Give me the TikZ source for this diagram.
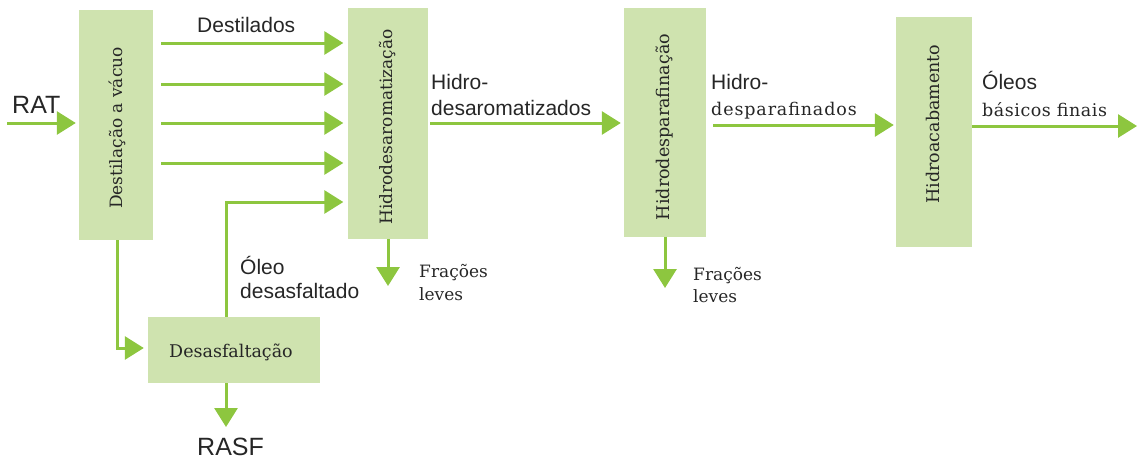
\documentclass[tikz,border=0pt]{standalone}
\usepackage{fontspec}
\setmainfont{DejaVu Serif}
\newfontfamily\lsans{Liberation Sans}
\newfontfamily\lserA{DejaVu Serif}
\newfontfamily\lserB{DejaVu Serif}[LetterSpace=5]
\newfontfamily\lserC{DejaVu Serif}[LetterSpace=3]
\usetikzlibrary{arrows.meta}
\definecolor{boxgreen}{HTML}{CFE3AF}
\definecolor{arrgreen}{HTML}{8DC63F}
\definecolor{txt}{HTML}{262626}
\tikzset{
  procbox/.style={draw=none, fill=boxgreen, inner sep=0pt},
  boxtxt/.style={rotate=90, inner sep=0pt, text=txt, font=\lserA\fontsize{17.5}{20}\selectfont},
  arr/.style={draw=arrgreen, line width=3pt, line join=miter,
    -{Triangle[length=19pt,width=23pt]}},
  sanslbl/.style={inner sep=0pt, anchor=base west, text=txt, font=\lsans\fontsize{21}{25}\selectfont},
  biglbl/.style={inner sep=0pt, anchor=base west, text=txt, font=\lsans\fontsize{25}{30}\selectfont},
  serlbl/.style={inner sep=0pt, anchor=base west, text=txt, font=\lserA\fontsize{17}{22}\selectfont}
}
\begin{document}
\begin{tikzpicture}[x=1pt,y=-1pt]
\useasboundingbox (0,0) rectangle (1137,459);

% boxes
\node[procbox, minimum width=74pt, minimum height=230pt] (dv) at (116,125) {};
\node[procbox, minimum width=80pt, minimum height=231pt] (hda) at (387.5,123.5) {};
\node[procbox, minimum width=82pt, minimum height=229pt] (hdp) at (665,122) {};
\node[procbox, minimum width=76pt, minimum height=230pt] (hac) at (934,132) {};
\node[procbox, minimum width=172pt, minimum height=66pt] (dsf) at (234,350) {};

% box texts
\node[boxtxt, font=\lserA\fontsize{17}{20}\selectfont] (dvt) at (117,128) {Destilação a vácuo};
\node[boxtxt, font=\lserA\fontsize{17}{20}\selectfont] (hdat) at (388,127) {Hidrodesaromatização};
\node[boxtxt] (hdpt) at (665,127) {Hidrodesparafinação};
\node[boxtxt] (hact) at (933,124) {Hidroacabamento};
\node[inner sep=0pt, anchor=base, text=txt, font=\lserA\fontsize{17.5}{20}\selectfont] (dsft) at (231,357) {Desasfaltação};

% labels
\node[biglbl] (rat) at (12,113) {RAT};
\node[sanslbl] (dest) at (197,32) {Destilados};
\node[sanslbl] (oleo1) at (240,274) {Óleo};
\node[sanslbl] (oleo2) at (240,298) {desasfaltado};
\node[biglbl] (rasf) at (197,455) {RASF};
\node[serlbl] (fl1a) at (419,277) {Frações};
\node[serlbl] (fl1b) at (419,300) {leves};
\node[serlbl] (fl2a) at (693,280) {Frações};
\node[serlbl] (fl2b) at (693,302) {leves};
\node[sanslbl] (hd1a) at (431,89) {Hidro-};
\node[sanslbl] (hd1b) at (431,115) {desaromatizados};
\node[sanslbl] (hd2a) at (711,89) {Hidro-};
\node[serlbl, font=\lserB\fontsize{17.5}{22}\selectfont] (hd2b) at (711,115) {desparafinados};
\node[sanslbl] (ob1) at (982,89) {Óleos};
\node[serlbl, font=\lserC\fontsize{17.5}{22}\selectfont] (ob2) at (982,116) {básicos finais};

% coordinates
\coordinate (ratin) at (7,123);
\coordinate (d1) at (161,43);
\coordinate (d2) at (161,84);
\coordinate (d3) at (161,123);
\coordinate (d4) at (161,163);
\coordinate (oleo) at (226,202);
\coordinate (dvx) at (117,348);
\coordinate (rasfarr) at (226,427);
\coordinate (fl1) at (388,286);
\coordinate (fl2) at (665,288);
\coordinate (h1) at (430,123);
\coordinate (h2) at (713,125);
\coordinate (outp) at (1137,126);

% connectors
\draw[arr, shorten >=3pt] (ratin) -- (dv.west |- ratin);
\draw[arr, shorten >=4pt] (d1) -- (hda.west |- d1);
\draw[arr, shorten >=4pt] (d2) -- (hda.west |- d2);
\draw[arr, shorten >=4pt] (d3) -- (hda.west |- d3);
\draw[arr, shorten >=4pt] (d4) -- (hda.west |- d4);
\draw[arr, shorten >=4pt] (dsf.north -| oleo) -- (oleo) -- (hda.west |- oleo);
\draw[arr, shorten >=4pt] (dv.south -| dvx) -- (dvx) -- (dsf.west |- dvx);
\draw[arr] (dsf.south -| rasfarr) -- (rasfarr);
\draw[arr] (hda.south -| fl1) -- (fl1);
\draw[arr] (hdp.south -| fl2) -- (fl2);
\draw[arr, shorten >=3pt] (h1) -- (hdp.west |- h1);
\draw[arr, shorten >=2pt] (h2) -- (hac.west |- h2);
\draw[arr] (hac.east |- outp) -- (outp);
\end{tikzpicture}
\end{document}
